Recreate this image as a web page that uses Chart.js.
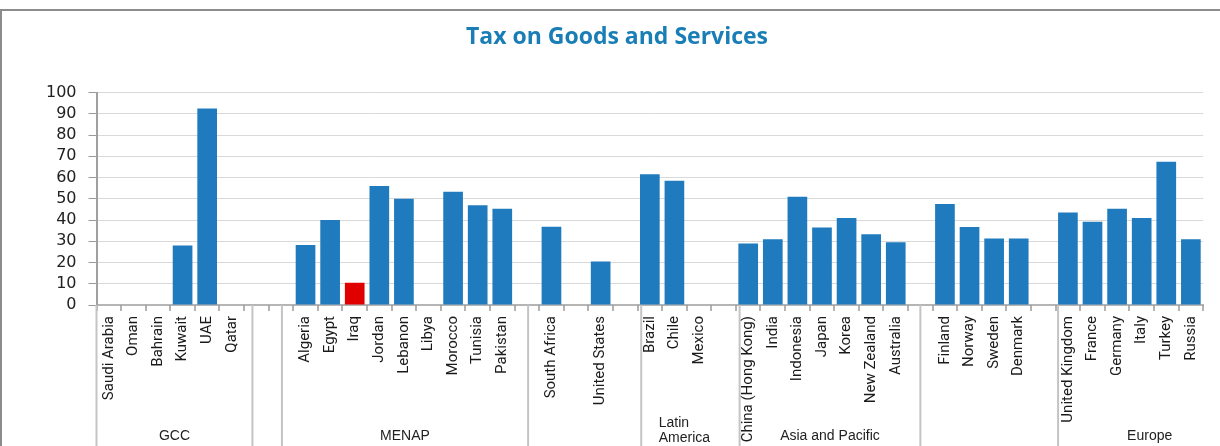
<!DOCTYPE html>
<html>
<head>
<meta charset="utf-8">
<script src="https://cdn.jsdelivr.net/npm/chart.js@4.4.1/dist/chart.umd.min.js"></script>
<style>
  html, body { margin: 0; padding: 0; background: #fff; }
  #wrap { position: relative; width: 1220px; height: 446px; }
</style>
</head>
<body>
<div id="wrap"><canvas id="taxChart" width="1220" height="446"></canvas></div>
<script>
// Categorias (strings vazias = espaços entre grupos)
const categories = [
    'Saudi Arabia', 'Oman', 'Bahrain', 'Kuwait', 'UAE', 'Qatar', '', '',
    'Algeria', 'Egypt', 'Iraq', 'Jordan', 'Lebanon', 'Libya', 'Morocco', 'Tunisia', 'Pakistan', '',
    'South Africa', '', 'United States', '',
    'Brazil', 'Chile', 'Mexico', '',
    'China (Hong Kong)', 'India', 'Indonesia', 'Japan', 'Korea', 'New Zealand', 'Australia', '',
    'Finland', 'Norway', 'Sweden', 'Denmark', '',
    'United Kingdom', 'France', 'Germany', 'Italy', 'Turkey', 'Russia'
];

// Valores (null = sem barra)
const taxValues = [
    0, 0, 0, 28, 92.5, 0, null, null,
    28.3, 40, 10.5, 56, 50, 0, 53.3, 47, 45.3, null,
    36.8, null, 20.5, null,
    61.5, 58.5, 0, null,
    29, 31, 51, 36.5, 41, 33.3, 29.5, null,
    47.5, 36.7, 31.3, 31.3, null,
    43.5, 39.2, 45.3, 41, 67.5, 31
];

const yTicks = [0, 10, 20, 30, 40, 50, 60, 70, 80, 90, 100];

// Rótulos de grupo do eixo x (nível inferior)
const groupLabels = ['GCC', 'MENAP', '', 'Latin\nAmerica', 'Asia and Pacific', '', 'Europe'];

const highlight = 'Iraq';

// Plugin: moldura, marcas do eixo x, divisórias e rótulos de grupo
const groupAxisPlugin = {
    id: 'groupAxis',
    beforeDraw(chart) {
        const c = chart.ctx;
        c.save();
        c.strokeStyle = '#8c8c8c';
        c.lineWidth = 2;
        c.beginPath();
        c.moveTo(1, 446);
        c.lineTo(1, 10);
        c.lineTo(1220, 10);
        c.stroke();
        c.restore();
    },
    afterDraw(chart, args, opts) {
        const c = chart.ctx;
        const x = chart.scales.x;
        const bottom = chart.chartArea.bottom;
        const step = x.getPixelForValue(1) - x.getPixelForValue(0);
        const px = v => x.getPixelForValue(0) + v * step;
        c.save();
        // marcas entre categorias
        c.strokeStyle = '#9a9a9a';
        c.lineWidth = 1.5;
        for (let i = 0; i <= categories.length; i++) {
            const xx = Math.round(px(i - 0.5));
            c.beginPath();
            c.moveTo(xx, bottom);
            c.lineTo(xx, bottom + 6);
            c.stroke();
        }
        // divisórias de grupo
        c.strokeStyle = '#c4c4c4';
        c.lineWidth = 2;
        opts.dividers.forEach(d => {
            c.beginPath();
            c.moveTo(px(d), bottom);
            c.lineTo(px(d), chart.height);
            c.stroke();
        });
        c.fillStyle = '#222';
        c.font = '14px "Liberation Sans", Arial, sans-serif';
        c.textBaseline = 'middle';
        groupLabels.forEach((lab, i) => {
            if (!lab) return;
            const mid = (px(opts.spans[i][0]) + px(opts.spans[i][1])) / 2;
            const lines = lab.split('\n');
            if (lines.length > 1) {
                const w = Math.max(...lines.map(l => c.measureText(l).width));
                c.textAlign = 'left';
                lines.forEach((l, k) => c.fillText(l, mid - w / 2 - 6, 423 + k * 15));
            } else {
                c.textAlign = 'center';
                c.fillText(lab, mid, 436);
            }
        });
        c.restore();
    }
};

new Chart(document.getElementById('taxChart'), {
    type: 'bar',
    data: {
        labels: categories,
        datasets: [{
            data: taxValues,
            backgroundColor: ctx => categories[ctx.dataIndex] === highlight ? '#e00000' : '#1f7bbd',
            barPercentage: 0.8,
            categoryPercentage: 1.0
        }]
    },
    options: {
        responsive: false,
        animation: false,
        layout: { padding: { left: 26, right: 12, top: 0, bottom: 0 } },
        plugins: {
            legend: { display: false },
            tooltip: { enabled: false },
            title: {
                display: true,
                text: 'Tax on Goods and Services',
                color: '#1a7eb6',
                font: { family: '"Open Sans", sans-serif', size: 23, weight: 'bold' },
                padding: { top: 24, bottom: 41 }
            },
            groupAxis: {
                dividers: [-0.5, 5.84, 7.04, 17.05, 21.65, 25.65, 33.0, 38.6],
                spans: [[-0.5, 5.84], [7.04, 17.05], [17.05, 21.65], [21.65, 25.65],
                        [25.65, 33.0], [33.0, 38.6], [38.6, 46.05]]
            }
        },
        scales: {
            x: {
                afterFit: s => { s.height = 141; },
                grid: { display: false, drawTicks: false },
                border: { color: '#b5b5b5', width: 2 },
                ticks: {
                    autoSkip: false,
                    minRotation: 90,
                    maxRotation: 90,
                    padding: 11,
                    color: '#1a1a1a',
                    font: { family: 'Roboto, sans-serif', size: 15 }
                }
            },
            y: {
                min: 0,
                max: 100,
                afterFit: s => { s.width = 70.5; },
                afterBuildTicks: s => { s.ticks = yTicks.map(v => ({ value: v })); },
                grid: { color: '#d9d9d9', tickLength: 8, tickColor: '#9a9a9a' },
                border: { color: '#a0a0a0', width: 2 },
                ticks: {
                    autoSkip: false,
                    padding: 12,
                    color: '#222',
                    font: { family: '"DejaVu Sans", sans-serif', size: 16 }
                }
            }
        }
    },
    plugins: [groupAxisPlugin]
});
</script>
</body>
</html>
